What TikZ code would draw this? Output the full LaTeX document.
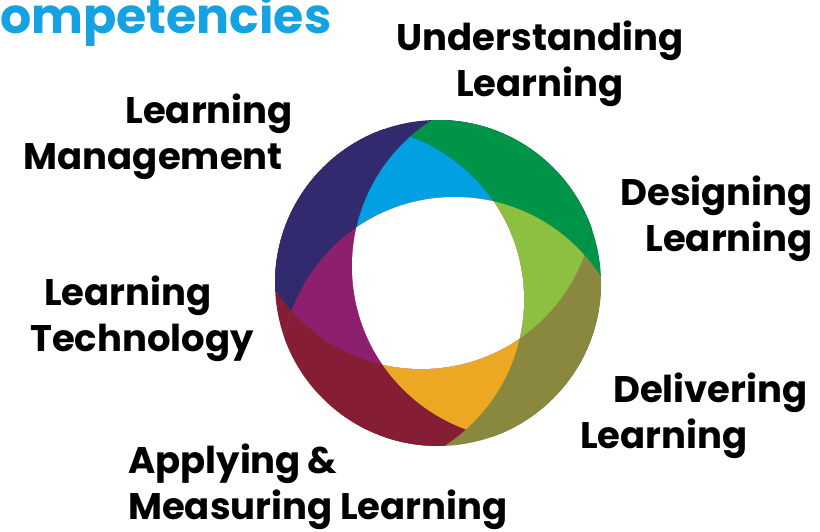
\documentclass[tikz,border=0pt]{standalone}
\usepackage{fontspec}
\setmainfont{Poppins}
\usepackage{tikz}
\definecolor{ringgreen}{RGB}{0,148,72}
\definecolor{ringnavy}{RGB}{50,42,110}
\definecolor{ringmaroon}{RGB}{133,30,52}
\definecolor{ringolive}{RGB}{138,136,62}
\definecolor{ringcyan}{RGB}{0,160,226}
\definecolor{ringlime}{RGB}{141,192,64}
\definecolor{ringorange}{RGB}{237,168,35}
\definecolor{ringmagenta}{RGB}{140,32,110}
\definecolor{titleblue}{RGB}{20,162,226}

\begin{document}
\begin{tikzpicture}[x=1pt, y=1pt,
				area/.style={font=\fontsize{37}{46}\selectfont\bfseries, inner sep=0pt, text=black},
				heading/.style={font=\fontsize{49}{50}\selectfont\bfseries, inner sep=0pt, text=titleblue}]
				%Bildbereich
				\useasboundingbox (0,0) rectangle (820,531);
				% Ring aus vier Kreisscheiben
				\begin{scope}[shift={(438,248)}]
					\def\rout{163}
					\def\rdisc{173.7}
					\foreach \k in {0,...,3} \coordinate (c\k) at ({10.8+90*\k}:89.3);
					% Aussenfarben
					\foreach \k/\col in {0/ringgreen,1/ringnavy,2/ringmaroon,3/ringolive} {
						\begin{scope}
							\clip (0,0) circle (\rout);
							\fill[\col] (c\k) circle (\rdisc);
						\end{scope}
					}
					\foreach \k/\n/\col in {0/1/ringgreen,1/2/ringnavy,2/3/ringmaroon,3/0/ringolive} {
						\begin{scope}
							\clip (0,0) circle (\rout);
							\clip (c\k) circle (\rdisc);
							\fill[\col] (c\n) circle (\rdisc);
						\end{scope}
					}
					% Innenfarben
					\foreach \a/\b/\c/\col in {0/1/2/ringcyan,3/0/1/ringlime,2/3/0/ringorange,1/2/3/ringmagenta} {
						\begin{scope}
							\clip (c\a) circle (\rdisc);
							\clip (c\b) circle (\rdisc);
							\fill[\col] (c\c) circle (\rdisc);
						\end{scope}
					}
					% weisse Mitte
					\begin{scope}
						\clip (c0) circle (\rdisc);
						\clip (c1) circle (\rdisc);
						\clip (c2) circle (\rdisc);
						\fill[white] (c3) circle (\rdisc);
					\end{scope}
				\end{scope}
				% Beschriftungen (Anker: Grundlinie der letzten Zeile)
				\node[heading, anchor=base west] (title) at (0,497) {ompetencies};
				\node[area, anchor=base, align=center] (understand) at (540,434) {Understanding\\Learning};
				\node[area, anchor=base east, align=right] (manage) at (293,361) {Learning\\Management\hspace*{10pt}};
				\node[area, anchor=base east, align=right] (design) at (813,279) {Designing\\Learning};
				\node[area, anchor=base, align=center] (technology) at (142,179) {Learning\hspace*{28pt}\\Technology};
				\node[area, anchor=base west, align=left] (deliver) at (580,83) {\hspace*{33pt}Delivering\\Learning};
				\node[area, anchor=base west, align=left] (apply) at (128,12) {Applying\,\&\\Measuring Learning};
			\end{tikzpicture}
\end{document}
